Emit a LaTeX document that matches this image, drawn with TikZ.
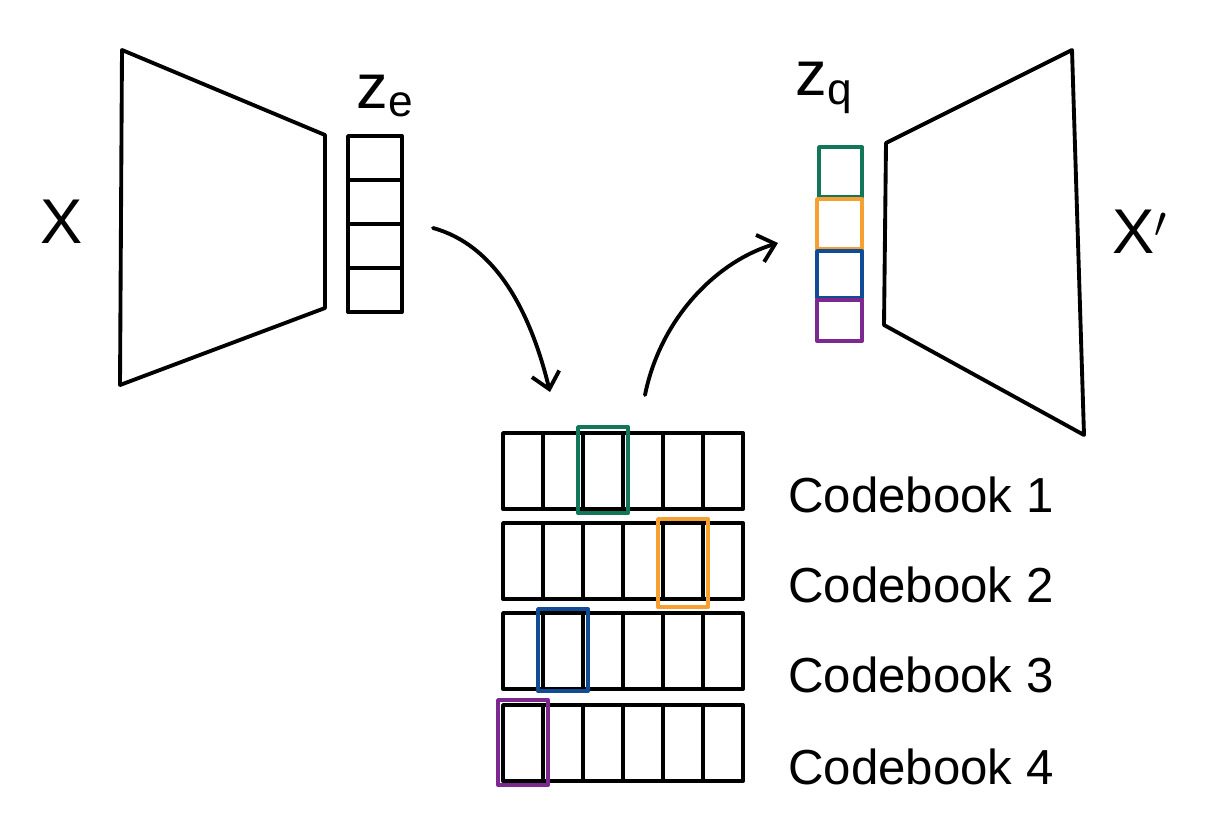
\documentclass[tikz,border=0pt]{standalone}
\usepackage{fontspec}
\setmainfont{Liberation Sans}
\usetikzlibrary{arrows.meta}

\definecolor{cbgreen}{RGB}{18,118,88}
\definecolor{cborange}{RGB}{245,160,48}
\definecolor{cbblue}{RGB}{16,76,150}
\definecolor{cbpurple}{RGB}{125,40,142}

\begin{document}
\begin{tikzpicture}[x=0.02cm, y=-0.02cm, line cap=round, line join=round,
    sketch/.style={line width=2.2pt},
    pick/.style={line width=2.2pt},
    biglabel/.style={font=\fontsize{36}{40}\selectfont},
    cblabel/.style={font=\fontsize{28}{32}\selectfont, anchor=base west},
    >={Straight Barb[length=9pt, width=16pt, line width=2.2pt]}]

	\useasboundingbox (0,0) rectangle (1220,836);

	% Cell sizes
	\def\cellw{40}
	\def\cellh{76}
	\def\cbx{503}

	% Encoder
	\draw[sketch] (122,50) -- (325,135) -- (325,308) -- (120,385) -- cycle;
	\node[biglabel] (x) at (62,222) {X};

	% z_e
	\foreach \i in {0,...,3}
		\draw[sketch] (348,136 + \i*44) rectangle (402,136 + \i*44 + 44);
	\node[biglabel] (ze) at (385,96) {z\textsubscript{e}};

	% Decoder
	\draw[sketch] (886,143) -- (1072,50) -- (1084,435) -- (884,325) -- cycle;
	\node[biglabel] (xp) at (1140,232) {X$'$};

	% z_q
	\draw[pick, cbgreen] (819,147) rectangle (862,197);
	\draw[pick, cborange] (817,199) rectangle (862,249);
	\draw[pick, cbblue] (817,251) rectangle (862,298);
	\draw[pick, cbpurple] (817,300) rectangle (862,341);
	\node[biglabel] (zq) at (824,88) {z\textsubscript{q}};

	% Codebooks
	\foreach \top/\n in {433/1, 523/2, 613/3, 705/4} {
		\foreach \c in {0,...,5}
			\draw[sketch] (\cbx + \c*\cellw, \top) rectangle (\cbx + \c*\cellw + \cellw, \top + \cellh);
		\node[cblabel] (cb\n) at (782, \top + \cellh + 3) {Codebook \n};
	}

	% Picked codes
	\draw[pick, cbgreen] (\cbx + 2*\cellw - 5, 427) rectangle (\cbx + 3*\cellw + 5, 513);
	\draw[pick, cborange] (\cbx + 4*\cellw - 5, 519) rectangle (\cbx + 5*\cellw + 5, 607);
	\draw[pick, cbblue] (\cbx + 1*\cellw - 5, 609) rectangle (\cbx + 2*\cellw + 5, 691);
	\draw[pick, cbpurple] (\cbx - 5, 700) rectangle (\cbx + \cellw + 5, 785);

	% Arrows
	\coordinate (quantin) at (433,228);
	\coordinate (quantend) at (550,392);
	\coordinate (lookup) at (645,395);
	\coordinate (lookupend) at (778,243);
	\draw[sketch, ->] (quantin) .. controls (495,245) and (530,310) .. (quantend);
	\draw[sketch, ->] (lookup) .. controls (660,320) and (715,262) .. (lookupend);

\end{tikzpicture}
\end{document}
